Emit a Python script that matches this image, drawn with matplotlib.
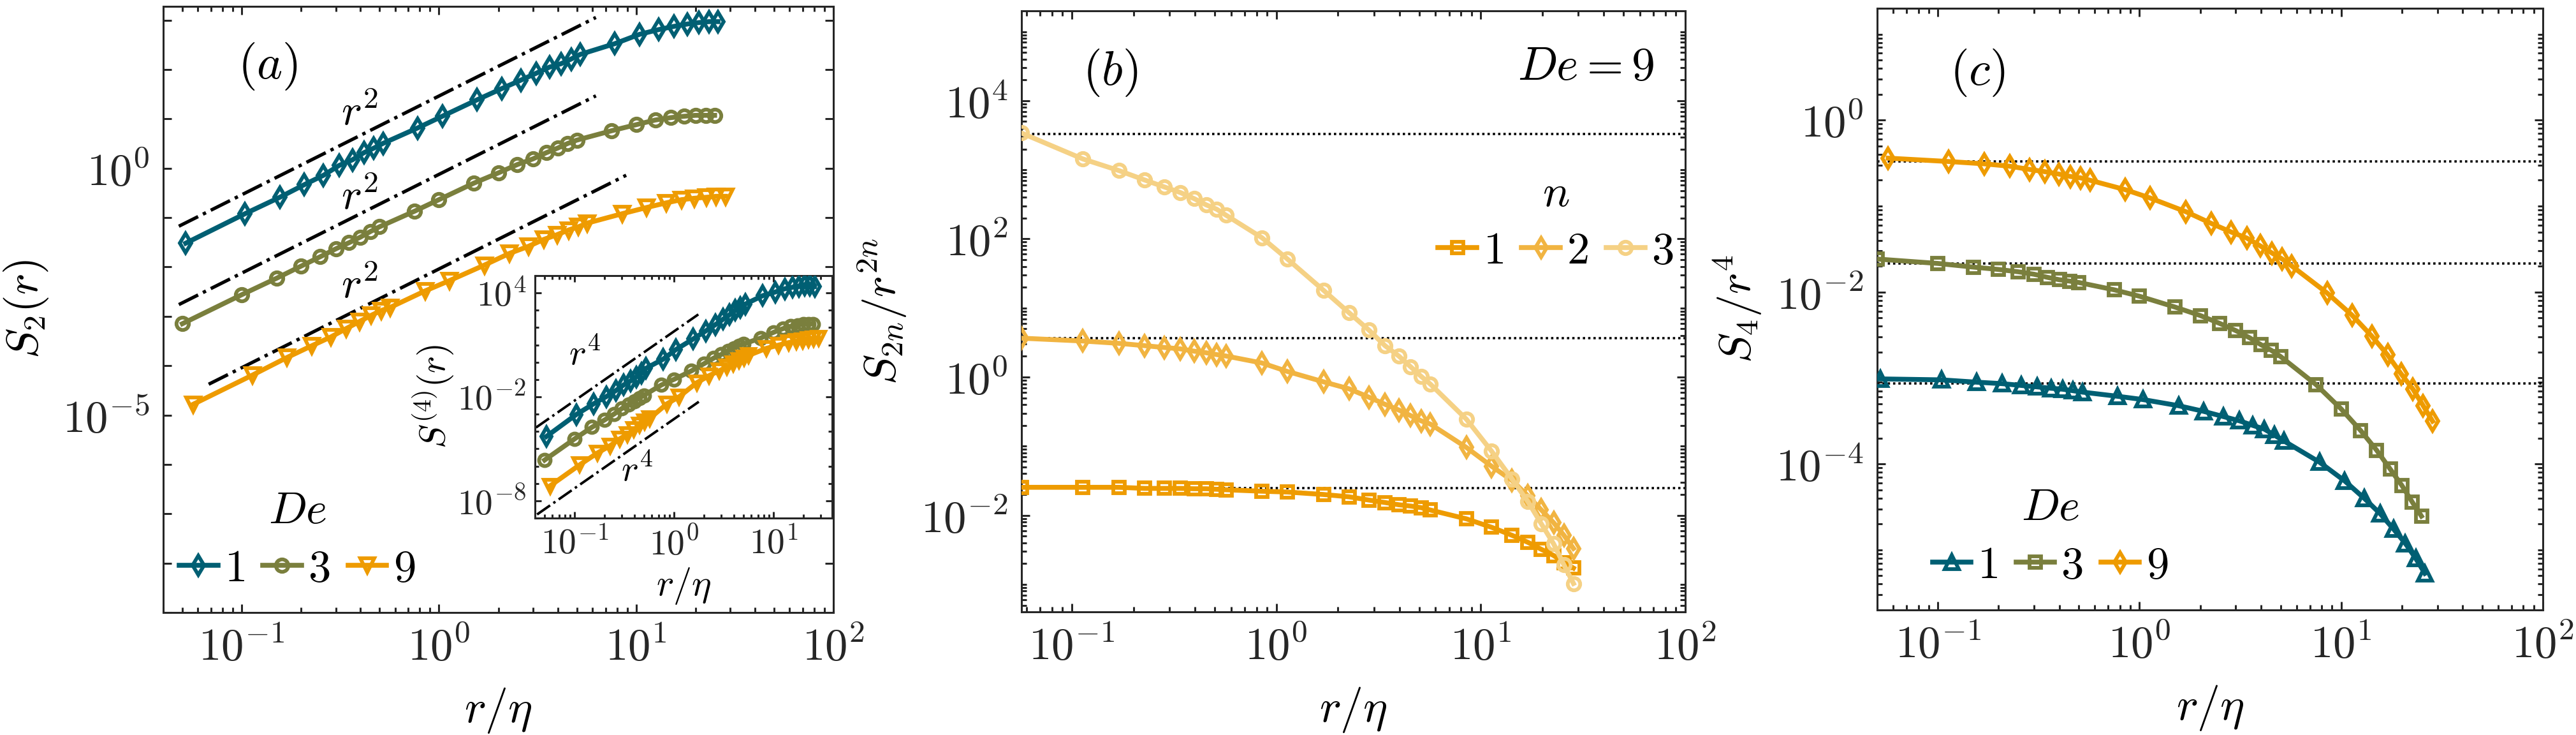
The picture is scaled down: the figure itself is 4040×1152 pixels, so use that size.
import numpy as np
import matplotlib
matplotlib.use("Agg")
import matplotlib.pyplot as plt
from matplotlib.ticker import LogLocator, FixedLocator, FuncFormatter, NullFormatter

plt.rcParams['mathtext.fontset'] = 'cm'
plt.rcParams['font.family'] = ['DejaVu Serif']
plt.rcParams['axes.linewidth'] = 2.2
plt.rcParams['axes.edgecolor'] = '#262626'

# ---------------- data ----------------
# separations r/eta for each Deborah number
r_De1 = [0.052, 0.104, 0.156, 0.208, 0.26, 0.312, 0.364, 0.416, 0.468, 0.52,
         0.78, 1.04, 1.56, 2.08, 2.6, 3.12, 3.64, 4.16, 4.68, 5.2,
         7.8, 10.4, 13.0, 15.6, 18.2, 20.8, 23.4, 26.0]
r_De3 = [0.05, 0.1, 0.15, 0.2, 0.25, 0.3, 0.35, 0.4, 0.45, 0.5,
         0.75, 1.0, 1.5, 2.0, 2.5, 3.0, 3.5, 4.0, 4.5, 5.0,
         7.5, 10.0, 12.5, 15.0, 17.5, 20.0, 22.5, 25.0]
r_De9 = [0.0567, 0.113, 0.170, 0.227, 0.284, 0.340, 0.397, 0.454, 0.510, 0.567,
         0.851, 1.13, 1.70, 2.27, 2.84, 3.40, 3.97, 4.54, 5.10, 5.67,
         8.51, 11.3, 14.2, 17.0, 19.8, 22.7, 25.5, 28.4]

# panel (a): S2(r)
S2_De1 = [0.0303, 0.120, 0.258, 0.466, 0.721, 1.14, 1.48, 2.06, 2.56, 3.18,
          6.55, 11.3, 24.3, 41.0, 60.8, 84.3, 112, 131, 163, 202,
          334, 516, 643, 750, 836, 893, 933, 933]
S2_De3 = [7.08e-4, 2.74e-3, 5.89e-3, 0.0104, 0.0161, 0.0233, 0.0310, 0.0403, 0.0524, 0.0652,
          0.134, 0.231, 0.497, 0.804, 1.19, 1.55, 2.06, 2.56, 3.18, 3.71,
          5.74, 7.62, 9.48, 10.6, 11.3, 11.8, 11.8, 11.8]
S2_De9 = [1.65e-5, 6.40e-5, 1.47e-4, 2.54e-4, 3.84e-4, 5.69e-4, 7.91e-4, 1.05e-3, 1.31e-3, 1.52e-3,
          3.27e-3, 5.28e-3, 0.0109, 0.0187, 0.0261, 0.0361, 0.0450, 0.0560, 0.0652, 0.0776,
          0.120, 0.160, 0.199, 0.231, 0.247, 0.258, 0.270, 0.270]
# r^2 guide lines: prefactor, x-start, x-end
guide2_A = [29.0, 0.75, 0.0091]
guide2_x0 = [0.048, 0.048, 0.068]
guide2_x1 = [6.25, 6.25, 8.9]
guide2_label_x = [0.396, 0.396, 0.396]
guide2_label_y = [13.0, 0.26, 0.0041]

# inset: S^(4)(r)
S4_De1 = [5.1e-5, 9.5e-4, 4.0e-3, 0.0102, 0.0229, 0.049, 0.081, 0.141, 0.234, 0.437,
          1.51, 5.25, 21.9, 63.1, 145, 302, 562, 1050, 1450, 2240,
          6920, 1.12e4, 1.74e4, 2.14e4, 2.40e4, 2.69e4, 2.69e4, 2.40e4]
S4_De3 = [2.24e-6, 3.72e-5, 1.78e-4, 4.57e-4, 1.02e-3, 2.14e-3, 3.55e-3, 5.50e-3, 8.51e-3, 0.0123,
          0.049, 0.102, 0.316, 0.813, 1.70, 2.82, 4.37, 6.31, 8.71, 11.2,
          25.1, 52.5, 87.1, 120, 135, 162, 162, 162]
S4_De9 = [7.2e-8, 1.2e-6, 5.75e-6, 1.48e-5, 3.72e-5, 6.92e-5, 1.29e-4, 2.40e-4, 3.72e-4, 5.50e-4,
          3.98e-3, 0.0102, 0.066, 0.170, 0.316, 0.525, 0.813, 1.26, 1.82, 2.51,
          6.31, 9.77, 13.5, 16.2, 18.2, 20.9, 21.9, 25.1]
guide4_A = [60.0, 5.2e-4]
guide4_x0 = [0.041, 0.042]
guide4_x1 = [1.76, 1.78]
guide4_label_x = [0.127, 0.427]
guide4_label_y = [2.8, 5.4e-7]

# panel (b): S_2n / r^2n for De = 9
Sn_n1 = [0.0254, 0.0254, 0.0254, 0.0245, 0.0245, 0.0245, 0.0242, 0.0242, 0.0238, 0.0234,
         0.0223, 0.0217, 0.0200, 0.0185, 0.0166, 0.0153, 0.0142, 0.0136, 0.0129, 0.0119,
         8.87e-3, 6.70e-3, 5.14e-3, 4.06e-3, 3.21e-3, 2.62e-3, 2.07e-3, 1.72e-3]
Sn_n2 = [3.66, 3.33, 3.08, 2.85, 2.68, 2.56, 2.37, 2.25, 2.12, 2.02,
         1.60, 1.21, 0.855, 0.676, 0.511, 0.404, 0.334, 0.277, 0.233, 0.209,
         0.0957, 0.0512, 0.0320, 0.0191, 0.0119, 7.83e-3, 5.14e-3, 3.31e-3]
Sn_n3 = [3410, 1440, 975, 713, 564, 468, 382, 311, 270, 221,
         104, 51.5, 18.1, 8.53, 4.78, 2.85, 2.02, 1.41, 1.03, 0.791,
         0.245, 0.0845, 0.0336, 0.0158, 7.48e-3, 3.87e-3, 1.92e-3, 1.03e-3]
plateau_b = [0.0245, 3.66, 3300]

# panel (c): S4 / r^4
S4r_De1 = [9.75e-4, 9.51e-4, 8.93e-4, 8.59e-4, 8.18e-4, 7.87e-4, 7.59e-4, 7.40e-4, 7.11e-4, 6.85e-4,
           6.12e-4, 5.61e-4, 4.76e-4, 4.09e-4, 3.56e-4, 3.18e-4, 2.81e-4, 2.54e-4, 2.15e-4, 1.85e-4,
           1.05e-4, 6.35e-5, 3.99e-5, 2.64e-5, 1.74e-5, 1.19e-5, 7.98e-6, 5.33e-6]
S4r_De3 = [0.0242, 0.0215, 0.0195, 0.0183, 0.0172, 0.0161, 0.0148, 0.0139, 0.0134, 0.0129,
           0.0106, 8.93e-3, 6.68e-3, 5.33e-3, 4.31e-3, 3.56e-3, 2.95e-3, 2.44e-3, 2.10e-3, 1.78e-3,
           8.38e-4, 4.36e-4, 2.44e-4, 1.44e-4, 8.71e-5, 5.61e-5, 3.61e-5, 2.47e-5]
S4r_De9 = [0.361, 0.330, 0.310, 0.291, 0.267, 0.251, 0.236, 0.221, 0.213, 0.200,
           0.155, 0.124, 0.0859, 0.0628, 0.0500, 0.0425, 0.0344, 0.0284, 0.0242, 0.0202,
           9.75e-3, 5.40e-3, 3.06e-3, 1.85e-3, 1.12e-3, 7.40e-4, 4.76e-4, 3.14e-4]
plateau_c = [0.33, 0.0215, 8.6e-4]

De_labels = ['1', '3', '9']
n_labels = ['1', '2', '3']

# ---------------- style ----------------
C_TEAL = '#005F73'
C_OLIVE = '#7A7F3D'
C_ORANGE = '#EE9B00'
C_N2 = '#F1B441'
C_N3 = '#F5D185'
INK = '#262626'

FS = 51
LW = 5.5
MS = 15
MEW = 4.2
DOTS = (0, (1.0, 1.3))


def pow_fmt(show_every=1):
    def f(v, pos):
        if v <= 0:
            return ''
        e = int(round(np.log10(v)))
        if e % show_every != 0:
            return ''
        return r'$10^{%d}$' % e
    return FuncFormatter(f)


def style_axes(ax, fs=FS, maj=9.5, mnr=5.5):
    ax.set_xscale('log')
    ax.set_yscale('log')
    ax.tick_params(which='both', direction='in', top=True, right=True,
                   color=INK, labelcolor=INK, width=2.2, labelsize=fs)
    ax.tick_params(which='major', length=maj, pad=15)
    ax.tick_params(which='minor', length=mnr)
    for s in ax.spines.values():
        s.set_color(INK)
        s.set_linewidth(2.2)


def curve(ax, x, y, color, marker, ms=MS, lw=LW, mew=MEW, label=None):
    ax.plot(x, y, color=color, lw=lw, marker=marker, ms=ms, mfc='none',
            mec=color, mew=mew, label=label, zorder=3)


def math_legend(ax, title, anchor):
    lg = ax.legend(title=title, ncol=3, frameon=False, loc='center',
                   bbox_to_anchor=anchor, fontsize=FS, title_fontsize=FS,
                   handlelength=0.85, handletextpad=0.15, columnspacing=0.4,
                   borderpad=0.1, labelspacing=0.3, numpoints=1)
    for t in lg.get_texts():
        t.set_text('$' + t.get_text() + '$')
    return lg


fig = plt.figure(figsize=(40.4, 11.52), dpi=100)
W, H = 4040.0, 1152.0


def axpx(l, r, t, b):
    return fig.add_axes([l / W, 1 - b / H, (r - l) / W, (b - t) / H])


# ---------------- panel (a) ----------------
axa = axpx(256, 1307, 10, 960)
style_axes(axa)
curve(axa, r_De1, S2_De1, C_TEAL, 'd', label=De_labels[0])
curve(axa, r_De3, S2_De3, C_OLIVE, 'o', ms=14, label=De_labels[1])
curve(axa, r_De9, S2_De9, C_ORANGE, 'v', ms=16, label=De_labels[2])
for A, x0, x1, lx, ly in zip(guide2_A, guide2_x0, guide2_x1, guide2_label_x, guide2_label_y):
    xx = np.array([x0, x1])
    axa.plot(xx, A * xx ** 2, color='black', lw=3.8, ls='-.', zorder=2)
    axa.text(lx, ly, r'$r^2$', fontsize=49, ha='center', va='center')
axa.set_xlim(0.04, 100)
axa.set_ylim(1e-9, 1.9e3)
axa.xaxis.set_major_locator(LogLocator(base=10, subs=(1.0,), numticks=20))
axa.xaxis.set_minor_locator(LogLocator(base=10, subs=np.arange(2, 10), numticks=20))
axa.xaxis.set_major_formatter(pow_fmt())
axa.xaxis.set_minor_formatter(NullFormatter())
axa.yaxis.set_major_locator(LogLocator(base=10, subs=(1.0,), numticks=40))
axa.yaxis.set_minor_locator(FixedLocator([]))
axa.yaxis.set_major_formatter(pow_fmt(5))
axa.set_xlabel(r'$r/\eta$', fontsize=52, labelpad=18)
axa.set_ylabel(r'$S_2(r)$', fontsize=51, labelpad=14)
axa.text(0.156, 0.901, r'$(a)$', transform=axa.transAxes, fontsize=55, ha='center', va='center')
math_legend(axa, r'$De$', (0.2, 0.12))

# inset
axi = axpx(839, 1305, 432, 812)
style_axes(axi, fs=40, maj=7, mnr=4.5)
axi.tick_params(which='major', pad=10)
curve(axi, r_De1, S4_De1, C_TEAL, 'd', ms=14, lw=5.5, mew=4.2)
curve(axi, r_De3, S4_De3, C_OLIVE, 'o', ms=13, lw=5.5, mew=4.2)
curve(axi, r_De9, S4_De9, C_ORANGE, 'v', ms=15, lw=5.5, mew=4.2)
for A, x0, x1, lx, ly in zip(guide4_A, guide4_x0, guide4_x1, guide4_label_x, guide4_label_y):
    xx = np.array([x0, x1])
    axi.plot(xx, A * xx ** 4, color='black', lw=2.8, ls='-.', zorder=2)
    axi.text(lx, ly, r'$r^4$', fontsize=41, ha='center', va='center')
axi.set_xlim(0.04, 39)
axi.set_ylim(1e-9, 1e5)
axi.xaxis.set_major_locator(LogLocator(base=10, subs=(1.0,), numticks=20))
axi.xaxis.set_minor_locator(LogLocator(base=10, subs=np.arange(2, 10), numticks=20))
axi.xaxis.set_major_formatter(pow_fmt())
axi.xaxis.set_minor_formatter(NullFormatter())
axi.yaxis.set_major_locator(FixedLocator([1e-8, 1e-2, 1e4]))
axi.yaxis.set_minor_locator(LogLocator(base=10, subs=(1.0,), numticks=40))
axi.yaxis.set_major_formatter(pow_fmt())
axi.yaxis.set_minor_formatter(NullFormatter())
axi.set_xlabel(r'$r/\eta$', fontsize=42, labelpad=4)
axi.set_ylabel(r'$S^{(4)}(r)$', fontsize=41, labelpad=2)

# ---------------- panel (b) ----------------
axb = axpx(1602, 2643, 17, 959)
style_axes(axb)
for v in plateau_b:
    axb.axhline(v, color='black', lw=2.6, ls=DOTS, zorder=2)
curve(axb, r_De9, Sn_n1, C_ORANGE, 's', ms=13, label=n_labels[0])
curve(axb, r_De9, Sn_n2, C_N2, 'd', label=n_labels[1])
curve(axb, r_De9, Sn_n3, C_N3, 'o', ms=14, label=n_labels[2])
axb.set_xlim(0.0567, 100)
axb.set_ylim(4e-4, 2e5)
axb.xaxis.set_major_locator(LogLocator(base=10, subs=(1.0,), numticks=20))
axb.xaxis.set_minor_locator(LogLocator(base=10, subs=np.arange(2, 10), numticks=20))
axb.xaxis.set_major_formatter(pow_fmt())
axb.xaxis.set_minor_formatter(NullFormatter())
axb.yaxis.set_major_locator(FixedLocator([1e-2, 1e0, 1e2, 1e4]))
axb.yaxis.set_minor_locator(LogLocator(base=10, subs=np.arange(1, 10), numticks=40))
axb.yaxis.set_major_formatter(pow_fmt())
axb.yaxis.set_minor_formatter(NullFormatter())
axb.set_xlabel(r'$r/\eta$', fontsize=52, labelpad=18)
axb.set_ylabel(r'$S_{2n}/r^{2n}$', fontsize=51, labelpad=14)
axb.text(0.134, 0.897, r'$(b)$', transform=axb.transAxes, fontsize=55, ha='center', va='center')
axb.text(0.85, 0.907, r'$De=9$', transform=axb.transAxes, fontsize=53, ha='center', va='center')
math_legend(axb, r'$n$', (0.805, 0.648))

# ---------------- panel (c) ----------------
axc = axpx(2944, 3988, 13, 956)
style_axes(axc)
for v in plateau_c:
    axc.axhline(v, color='black', lw=2.6, ls=DOTS, zorder=2)
curve(axc, r_De1, S4r_De1, C_TEAL, '^', ms=16, label=De_labels[0])
curve(axc, r_De3, S4r_De3, C_OLIVE, 's', ms=13, label=De_labels[1])
curve(axc, r_De9, S4r_De9, C_ORANGE, 'd', label=De_labels[2])
axc.set_xlim(0.05, 100)
axc.set_ylim(2e-6, 20)
axc.xaxis.set_major_locator(LogLocator(base=10, subs=(1.0,), numticks=20))
axc.xaxis.set_minor_locator(LogLocator(base=10, subs=np.arange(2, 10), numticks=20))
axc.xaxis.set_major_formatter(pow_fmt())
axc.xaxis.set_minor_formatter(NullFormatter())
axc.yaxis.set_major_locator(FixedLocator([1e-4, 1e-2, 1e0]))
axc.yaxis.set_minor_locator(LogLocator(base=10, subs=np.arange(1, 10), numticks=40))
axc.yaxis.set_major_formatter(pow_fmt())
axc.yaxis.set_minor_formatter(NullFormatter())
axc.set_xlabel(r'$r/\eta$', fontsize=52, labelpad=18)
axc.set_ylabel(r'$S_4/r^4$', fontsize=51, labelpad=14)
axc.text(0.151, 0.893, r'$(c)$', transform=axc.transAxes, fontsize=55, ha='center', va='center')
math_legend(axc, r'$De$', (0.26, 0.122))

fig.savefig('out.png', dpi=100)
